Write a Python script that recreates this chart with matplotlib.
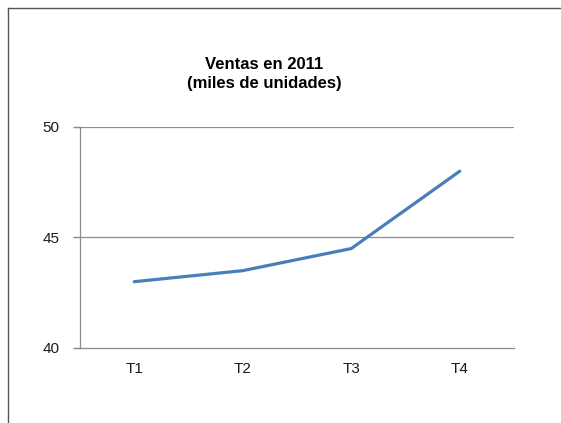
import matplotlib.pyplot as plt
import matplotlib.lines as mlines

plt.rcParams['font.family'] = ['Liberation Sans', 'DejaVu Sans']

# data
trimestres = ['T1', 'T2', 'T3', 'T4']
ventas = [43, 43.5, 44.5, 48]
yticks = [40, 45, 50]

W, H = 561, 423
fig = plt.figure(figsize=(W/100, H/100), dpi=100)

# plot area in pixels: x 80..514, y 127..348
ax = fig.add_axes([80/W, 1-348/H, (514-80)/W, (348-127)/H])
ax.plot(range(len(trimestres)), ventas, color='#4A7EBB', lw=2.3,
        solid_capstyle='round', solid_joinstyle='round', zorder=3)

ax.set_xlim(-0.5, len(trimestres)-0.5)
ax.set_ylim(40, 50)
ax.set_yticks(yticks)
ax.set_xticks(range(len(trimestres)))
ax.set_xticklabels(trimestres)

grid_c = '#8C8C8C'
for v in yticks[1:]:
    ax.axhline(v, color=grid_c, lw=0.9, zorder=1)
for s in ['top', 'right']:
    ax.spines[s].set_visible(False)
for s in ['left', 'bottom']:
    ax.spines[s].set_color(grid_c)
    ax.spines[s].set_linewidth(0.9)
ax.tick_params(axis='y', length=5, width=0.9, color=grid_c, labelsize=11,
               pad=10, labelcolor='#1a1a1a')
ax.tick_params(axis='x', length=0, labelsize=11, pad=10, labelcolor='#1a1a1a')
# extend gridlines over the tick marks like Excel does
for v in yticks:
    ax.plot([-0.5 - 6/108.5, -0.5], [v, v], color=grid_c, lw=0.9,
            clip_on=False, zorder=1)

fig.text(264/W, 1-74/H, 'Ventas en 2011\n(miles de unidades)', ha='center',
         va='center', fontsize=12, fontweight='bold', linespacing=1.4)

# chart border (left and top)
fig.add_artist(mlines.Line2D([7.5/W, 7.5/W], [0, 1-8/H], color='#555555', lw=1.0,
                             transform=fig.transFigure))
fig.add_artist(mlines.Line2D([7.5/W, 1], [1-8/H, 1-8/H], color='#555555', lw=1.0,
                             transform=fig.transFigure))

fig.savefig('out.png', dpi=100)
